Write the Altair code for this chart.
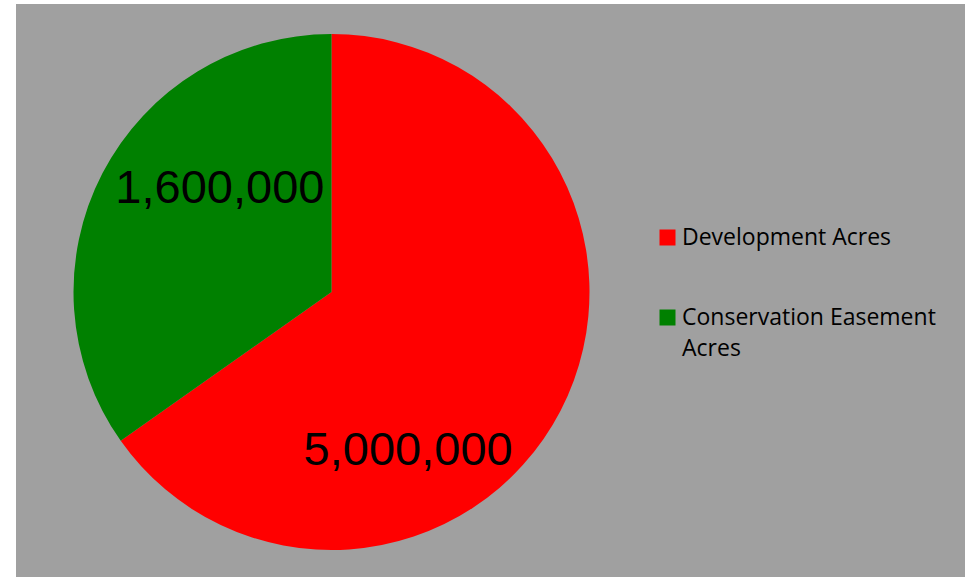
import altair as alt
import pandas as pd

# Data
categories = ["Development Acres", "Conservation Easement Acres"]
slice_values = [3000000, 1600000]          # sizes
value_labels = ["5,000,000", "1,600,000"]  # data labels as printed on the chart
colors = ["#FF0000", "#008000"]

df = pd.DataFrame({
    "category": categories,
    "value": slice_values,
    "label": value_labels,
    "order": list(range(len(categories))),
})

CX, CY = 315.5, 288   # pie centre inside the plot area
R = 258

base = alt.Chart(df).encode(
    theta=alt.Theta("value:Q", stack=True),
    order=alt.Order("order:Q"),
    x=alt.value(CX),
    y=alt.value(CY),
)

legend = alt.Legend(
    title=None,
    orient="none",
    legendX=640,
    legendY=222,
    symbolType="square",
    symbolSize=256,
    symbolStrokeWidth=0,
    labelFont="Open Sans",
    labelFontSize=23,
    labelColor="#000000",
    labelLimit=400,
    labelOffset=3,
    rowPadding=56,
    padding=0,
    labelExpr="datum.label == 'Conservation Easement Acres' ? ['Conservation Easement', 'Acres'] : datum.label",
)

pie = base.mark_arc(radius=R).encode(
    color=alt.Color("category:N", scale=alt.Scale(domain=categories, range=colors),
                    sort=categories, legend=legend)
)

text_dev = base.mark_text(radius=155, font="Liberation Sans", fontSize=47, color="#000000",
                          dx=-61, dy=88).encode(
    text=alt.condition(alt.datum.category == categories[0], "label:N", alt.value(""))
)
text_con = base.mark_text(radius=155, font="Liberation Sans", fontSize=47, color="#000000",
                          dx=26, dy=-32).encode(
    text=alt.condition(alt.datum.category == categories[1], "label:N", alt.value(""))
)

chart = alt.layer(pie, text_dev, text_con).properties(
    width=949,
    height=573,
    background="white",
    padding={"left": 16, "top": 4, "right": 0, "bottom": 0},
    autosize=alt.AutoSizeParams(type="none"),
).configure(
    view=alt.ViewConfig(fill="#A0A0A0", strokeWidth=0),
    style={"guide-label": {"lineHeight": 31}},
)

chart.save("out.html", embed_options={"renderer": "svg", "actions": False})
